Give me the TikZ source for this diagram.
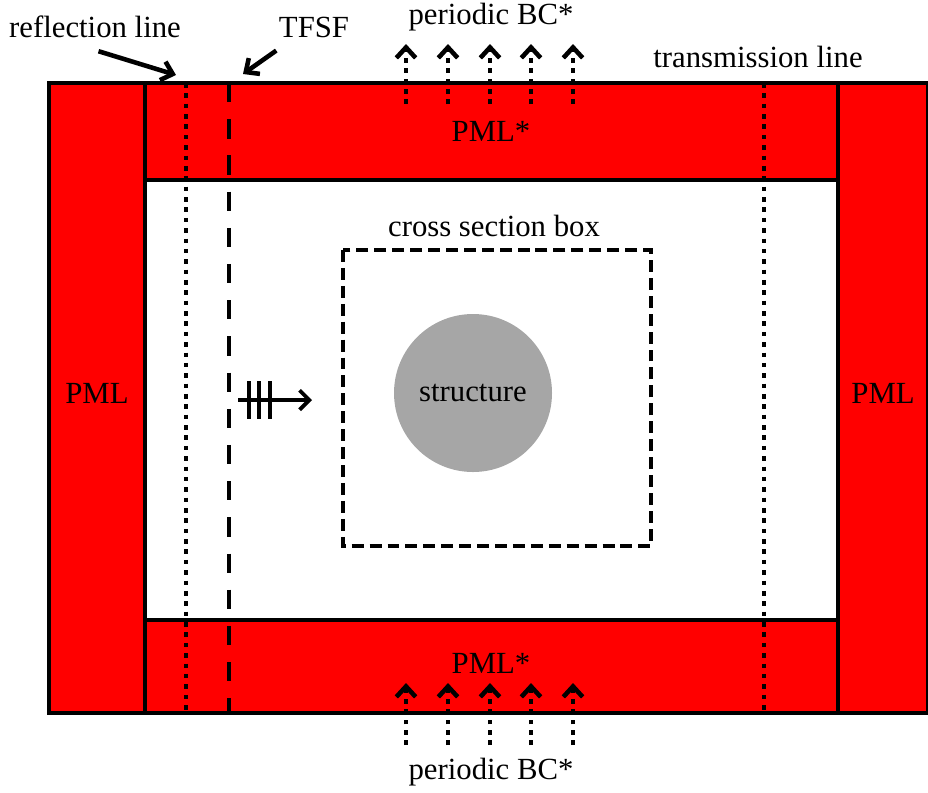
\documentclass[tikz,border=0pt]{standalone}
\usepackage{fontspec}
\setmainfont{Liberation Serif}
\usetikzlibrary{arrows.meta}
\definecolor{pmlred}{RGB}{255,0,0}
\definecolor{structgray}{RGB}{166,166,166}

\begin{document}
\begin{tikzpicture}[x=0.02cm,y=-0.02cm,>={Straight Barb[length=6pt,width=11pt]},
  every node/.style={font=\fontsize{17.5}{20}\selectfont},
  pml/.style={fill=pmlred,draw=black,line width=2pt},
  dotline/.style={line width=2.6pt,dash pattern=on 2.6pt off 3.3pt},
  tfsfline/.style={line width=2.6pt,dash pattern=on 11pt off 9.6pt},
  bcarrow/.style={->,line width=2.6pt,dash pattern=on 2.6pt off 3.3pt},
  labelarrow/.style={->,line width=2.6pt}]
  \useasboundingbox (0,0) rectangle (928,792);
  % PML regions
  \draw[pml](49,83)rectangle(145,713);
  \draw[pml](838,83)rectangle(928,713);
  \draw[pml](145,83)rectangle(838,180);
  \draw[pml](145,620)rectangle(838,713);
  \node(pmlL) at (97,393){PML};
  \node(pmlR) at (883,393){PML};
  \node(pmlT) at (491,131){PML*};
  \node(pmlB) at (491,663){PML*};
  % monitor lines and source
  \draw[dotline](186,83)--(186,713);
  \draw[tfsfline](229,83)--(229,713);
  \draw[dotline](764,83)--(764,713);
  % periodic boundaries
  \foreach \x in {406,448,490,531,573}{
    \draw[bcarrow](\x,104)--(\x,44);
    \draw[bcarrow](\x,745)--(\x,683);}
  \node(bcT) at (491,17){periodic BC*};
  \node(bcB) at (491,772){periodic BC*};
  % labels
  \node(refl) at (95,27){reflection line};
  \node(tfsf) at (314,27){TFSF};
  \node(trans) at (758,57){transmission line};
  \coordinate(refltip) at (176,75);
  \coordinate(tfsftip) at (243,74);
  \draw[labelarrow]([xshift=2pt,yshift=-4pt]refl.south)--(refltip);
  \draw[labelarrow]([xshift=2pt,yshift=-4pt]tfsf.south west)--(tfsftip);
  % structure and cross section box
  \draw[line width=2.3pt,dash pattern=on 6.8pt off 3.4pt](343,250)rectangle(651,546);
  \node(xsec) at (494,226){cross section box};
  \node[circle,fill=structgray,minimum size=158*0.02cm](struct) at (473,393){structure};
  % incident plane wave
  \coordinate(wavetail) at (238,400);
  \coordinate(wavetip) at (312,400);
  \draw[->,line width=2.2pt,>={Straight Barb[length=5.5pt,width=11pt]}](wavetail)--(wavetip);
  \foreach \x in {249,259,270}
    \draw[line width=2.2pt](\x,381)--(\x,419);
\end{tikzpicture}
\end{document}
